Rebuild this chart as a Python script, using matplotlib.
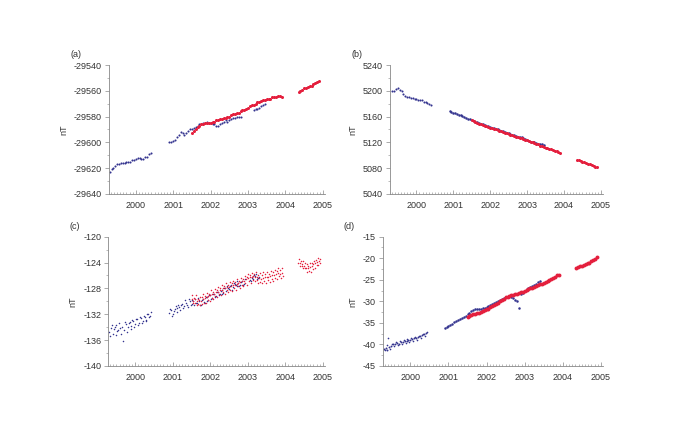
import numpy as np
import matplotlib
matplotlib.use("Agg")
import matplotlib.pyplot as plt
from matplotlib.ticker import MultipleLocator

nan = np.nan

# sampling epochs (decimal year) of the two data segments of each satellite
t_o1 = [1999.30, 1999.35, 1999.40, 1999.45, 1999.50, 1999.55, 1999.60, 1999.65, 1999.70, 1999.75,
        1999.80, 1999.85, 1999.90, 1999.95, 2000.00, 2000.05, 2000.10, 2000.15, 2000.20, 2000.25,
        2000.30, 2000.35, 2000.40]
t_o2 = [2000.90, 2000.95, 2001.00, 2001.05, 2001.10, 2001.15, 2001.20, 2001.25, 2001.30, 2001.35,
        2001.40, 2001.45, 2001.50, 2001.55, 2001.60, 2001.65, 2001.70, 2001.75, 2001.80, 2001.85,
        2001.90, 2001.95, 2002.00, 2002.05, 2002.10, 2002.15, 2002.20, 2002.25, 2002.30, 2002.35,
        2002.40, 2002.45, 2002.50, 2002.55, 2002.60, 2002.65, 2002.70, 2002.75, 2002.80, 2002.85,
        2002.90, 2002.95, 2003.00, 2003.05, 2003.10, 2003.15, 2003.20, 2003.25, 2003.30, 2003.35,
        2003.40, 2003.45]
t_c1 = [2001.50, 2001.55, 2001.60, 2001.65, 2001.70, 2001.75, 2001.80, 2001.85, 2001.90, 2001.95,
        2002.00, 2002.05, 2002.10, 2002.15, 2002.20, 2002.25, 2002.30, 2002.35, 2002.40, 2002.45,
        2002.50, 2002.55, 2002.60, 2002.65, 2002.70, 2002.75, 2002.80, 2002.85, 2002.90, 2002.95,
        2003.00, 2003.05, 2003.10, 2003.15, 2003.20, 2003.25, 2003.30, 2003.35, 2003.40, 2003.45,
        2003.50, 2003.55, 2003.60, 2003.65, 2003.70, 2003.75, 2003.80, 2003.85, 2003.90]
t_c2 = [2004.35, 2004.40, 2004.45, 2004.50, 2004.55, 2004.60, 2004.65, 2004.70, 2004.75, 2004.80,
        2004.85, 2004.90, 2004.95]

# (a)
a_o1 = [-29623, -29621, -29620, -29618, -29617, -29617, -29616, -29616, -29616, -29615,
        -29615, -29615, -29614, -29614, -29613, -29612, -29612, -29613, -29613, -29611,
        -29611, -29609, -29608]
a_o2 = [-29600, -29600, -29599, -29598, -29596, -29594, -29592, -29593, -29594, -29593,
        -29591, -29590, -29590, -29589, -29588, -29587, -29586, -29586, -29585, -29585,
        -29584, -29585, -29585, -29586, -29586, -29587, -29587, -29586, -29585, -29584,
        -29583, -29584, -29583, -29582, -29581, -29581, -29580, -29580, -29580, nan,
        nan, nan, nan, nan, nan, -29575, -29574, -29574, -29573, -29572,
        -29571, -29570]
a_c1 = [-29593, -29591, -29590, -29588, -29587, -29586, -29586, -29585, -29585, -29585,
        -29585, -29584, -29584, -29583, -29583, -29582, -29582, -29581, -29581, -29580,
        -29580, -29579, -29578, -29578, -29577, -29577, -29576, -29575, -29575, -29574,
        -29573, -29572, -29571, -29571, -29570, -29569, -29569, -29568, -29567, -29567,
        -29566, -29566, -29566, -29565, -29565, -29565, -29564, -29564, -29565]
a_c2 = [-29561, -29560, -29559, -29558, -29558, -29557, -29556, -29556, -29555, -29554,
        -29553, -29552, nan]

# (b)
b_o1 = [nan, 5200, 5199, 5203, 5204, 5201, 5199, 5195, 5192, 5191,
        5190, 5189, 5189, 5188, 5187, 5186, 5186, 5185, 5183, 5182,
        5181, 5180, 5178]
b_o2 = [5168, 5167, 5166, 5165, 5164, 5163, 5162, 5161, 5159, 5158,
        5157, 5156, 5155, 5153, 5152, 5151, 5150, 5149, 5148, 5147,
        5146, 5145, 5144, 5143, 5142, 5141, 5140, 5139, 5138, 5137,
        5136, 5135, 5135, 5133, 5132, 5131, 5130, 5129, 5129, 5128,
        5126, 5125, 5123, 5122, 5121, 5120, 5120, 5119, 5118, 5117,
        5117, 5116]
b_c1 = [5154, 5153, 5152, 5150, 5149, 5148, 5147, 5146, 5145, 5144,
        5143, 5142, 5141, 5140, 5139, 5138, 5137, 5136, 5135, 5134,
        5133, 5132, 5131, 5130, 5129, 5128, 5127, 5126, 5125, 5124,
        5123, 5122, 5121, 5120, 5119, 5118, 5117, 5115, 5114, 5113,
        5112, 5111, 5110, 5109, 5108, 5107, 5106, 5105, 5104]
b_c2 = [5093, 5092, 5091, 5090, 5089, 5088, 5087, 5086, 5085, 5084,
        5082, 5081, nan]

# (c)  several samples per epoch, the component is noisy
c_o1 = [-134.8, -134.2, -135.0, -134.0, -133.6, -134.5, -134.2, -133.9, -134.4, -133.5,
        -134.0, -133.2, -133.8, -133.0, -133.5, -132.8, -133.4, -132.6, -133.1, -132.4,
        -132.9, -132.0, -132.3]
c_o1b = [-135.4, -133.6, -134.3, -135.2, -134.6, -133.3, -135.0, -136.1, -133.2, -134.7,
         -133.4, -134.3, -132.9, -134.0, -132.7, -133.6, -132.5, -133.3, -132.2, -133.0,
         -131.9, -132.5, -131.7]
c_o2 = [-131.8, -131.4, -132.0, -131.2, -131.0, -130.6, -131.3, -130.4, -130.8, -130.2,
        -130.9, -129.9, -130.4, -130.0, -129.7, -130.3, -129.9, -130.5, -129.6, -130.2,
        -129.3, -129.8, -129.1, -129.5, -128.8, -129.2, -128.6, -128.9, -128.3, -128.7,
        -128.0, -127.6, -128.1, -127.4, -127.8, -127.3, -127.6, -127.2, -127.5, -126.8,
        -127.3, nan, nan, -126.7, -126.3, -126.5, -126.1, -126.6, -126.3, nan,
        nan, nan]
c_o2b = [-131.2, -132.3, -131.5, -130.8, -131.6, -130.9, -130.5, -131.1, -129.8, -130.6,
         -129.6, -130.5, -129.8, -130.6, -130.3, -129.5, -130.6, -129.8, -130.1, -129.4,
         -130.0, -129.1, -129.6, -128.9, -129.4, -128.5, -129.0, -128.4, -128.8, -127.9,
         -128.4, -128.0, -127.6, -128.2, -127.1, -127.5, -126.9, -127.7, -127.0, -127.4,
         -126.6, nan, nan, -126.9, -126.4, -126.0, -125.8, -126.4, nan, nan,
         nan, nan]
c_c1 = [-129.6, -129.9, -129.7, -130.0, -129.8, -130.0, -129.7, -129.5, -129.4, -129.2,
        -129.0, -128.9, -128.8, -128.6, -128.5, -128.3, -128.2, -128.0, -127.9, -127.8,
        -127.8, -127.6, -127.5, -127.5, -127.3, -127.2, -127.0, -126.9, -126.8, -126.6,
        -126.4, -126.3, -126.2, -126.1, -126.2, -126.3, -126.4, -126.5, -126.4, -126.3,
        -126.2, -126.3, -126.1, -126.0, -125.9, -125.8, -125.6, -125.7, -125.6]
c_c1_hi = [-129.0, -129.5, -129.1, -129.7, -129.3, -129.4, -128.9, -129.2, -128.7, -128.9,
           -128.3, -128.6, -128.1, -128.3, -127.8, -128.0, -127.5, -127.7, -127.2, -127.5,
           -127.0, -127.2, -126.9, -127.0, -126.6, -126.8, -126.4, -126.5, -126.1, -126.3,
           -125.8, -126.0, -125.6, -125.8, -125.5, -125.9, -125.6, -126.0, -125.5, -125.8,
           -125.4, -125.8, -125.3, -125.5, -125.1, -125.3, -124.8, -125.2, -124.9]
c_c1_lo = [-130.2, -130.3, -130.5, -130.4, -130.6, -130.4, -130.2, -130.3, -129.8, -130.0,
           -129.5, -129.6, -129.2, -129.4, -128.9, -129.1, -128.6, -128.8, -128.3, -128.5,
           -128.2, -128.4, -127.9, -128.2, -127.7, -128.0, -127.4, -127.7, -127.2, -127.4,
           -126.9, -127.1, -126.7, -126.9, -126.7, -127.1, -127.0, -127.2, -126.9, -127.1,
           -126.7, -127.0, -126.6, -126.8, -126.4, -126.6, -126.1, -126.4, -126.1]
c_c2 = [-124.0, -124.1, -124.3, -124.5, -124.8, -124.9, -124.7, -124.5, -124.3, -124.0,
        -123.9, -123.7, nan]
c_c2_hi = [-123.5, -123.8, -123.8, -124.1, -124.2, -124.5, -124.1, -124.1, -123.7, -123.6,
           -123.3, -123.4, nan]
c_c2_lo = [-124.5, -124.5, -124.9, -124.9, -125.4, -125.3, -125.4, -125.0, -124.9, -124.4,
           -124.4, -124.0, nan]

# (d)
d_o1 = [-41.0, -40.8, -41.2, -40.5, -40.3, -40.0, -39.9, -39.7, -39.8, -39.5,
        -39.4, -39.3, -39.2, -39.0, -39.0, -38.8, -38.6, -38.5, -38.3, -38.0,
        -37.9, -37.6, -37.4]
d_o1b = [-41.4, -40.2, -38.4, -41.0, -39.8, -40.4, -39.5, -40.1, -39.3, -39.9,
         -39.0, -39.7, -38.8, -39.4, -38.6, -39.1, -38.3, -38.9, -38.0, -38.4,
         -37.7, -38.0, -37.2]
d_o2 = [-36.1, -36.0, -35.7, -35.5, -35.2, -34.9, -34.6, -34.3, -34.1, -33.9,
        -33.6, -33.3, -33.0, -32.7, -32.3, -32.0, -31.9, -31.8, -31.7, -31.7,
        -31.6, -31.5, -31.3, -31.1, -30.9, -30.7, -30.5, -30.2, -30.0, -29.8,
        -29.5, -29.3, -29.1, -28.9, -28.8, -28.9, -29.3, -29.8, -30.0, -31.6,
        -28.3, -28.0, -27.6, -27.2, -26.8, -26.6, -26.4, -26.2, -25.9, -25.5,
        -25.2, nan]
d_c1 = [-33.6, -33.4, -33.2, -33.0, -32.9, -32.7, -32.6, -32.5, -32.3, -32.1,
        -31.9, -31.7, -31.4, -31.2, -30.9, -30.6, -30.3, -30.0, -29.7, -29.4,
        -29.1, -28.9, -28.7, -28.6, -28.5, -28.4, -28.2, -28.1, -27.9, -27.8,
        -27.6, -27.4, -27.2, -27.0, -26.8, -26.6, -26.4, -26.2, -26.0, -25.9,
        -25.7, -25.5, -25.3, -25.1, -24.9, -24.6, -24.3, -24.0, -23.8]
d_c2 = [-22.2, -22.0, -21.9, -21.7, -21.5, -21.3, -21.2, -21.0, -20.7, -20.4,
        -20.1, -19.8, nan]

years = [2000, 2001, 2002, 2003, 2004, 2005]

blue = '#34348f'
red = '#e41f3d'

plt.rcParams['font.family'] = ['Liberation Sans', 'DejaVu Sans']
plt.rcParams['axes.unicode_minus'] = False
fig = plt.figure(figsize=(6.85, 4.28), dpi=100)


def setup(ax, label, ylim, ymaj, ymin):
    ax.set_xlim(1999.28, 2005.05)
    ax.set_ylim(*ylim)
    ax.set_xticks(years)
    ax.set_xticklabels([str(y) for y in years])
    ax.xaxis.set_minor_locator(MultipleLocator(1 / 12))
    ax.yaxis.set_major_locator(MultipleLocator(ymaj))
    ax.yaxis.set_minor_locator(MultipleLocator(ymin))
    for s in ['top', 'right']:
        ax.spines[s].set_visible(False)
    for s in ['left', 'bottom']:
        ax.spines[s].set_color('#888888')
        ax.spines[s].set_linewidth(0.6)
    ax.tick_params(axis='x', which='major', direction='in', length=3, width=0.5,
                   color='#888888', labelsize=6.5, labelcolor='#333333', pad=5)
    ax.tick_params(axis='x', which='minor', direction='in', length=1.5, width=0.4, color='#888888')
    ax.tick_params(axis='y', which='major', direction='out', length=3, width=0.5,
                   color='#888888', labelsize=6.5, labelcolor='#333333', pad=2)
    ax.tick_params(axis='y', which='minor', direction='out', length=1.5, width=0.4, color='#888888')
    ax.set_ylabel('nT', fontsize=6.5, color='#333333', labelpad=4)
    ax.text(-0.18, 1.045, label, transform=ax.transAxes, fontsize=6.5, color='#333333',
            ha='left', va='bottom')


def dots(ax, t, v, c, ms):
    ax.plot(t, v, linestyle='none', marker='o', ms=ms, mew=0, color=c)


# (a)
ax = fig.add_axes([0.159, 0.547, 0.315, 0.301])
dots(ax, t_o1, a_o1, blue, 1.5)
dots(ax, t_o2, a_o2, blue, 1.5)
dots(ax, t_c1, a_c1, red, 2.2)
dots(ax, t_c2, a_c2, red, 2.2)
setup(ax, '(a)', (-29640, -29540), 20, 10)

# (b)
ax = fig.add_axes([0.569, 0.547, 0.311, 0.301])
dots(ax, t_o1, b_o1, blue, 1.5)
dots(ax, t_o2, b_o2, blue, 1.8)
dots(ax, t_c1, b_c1, red, 2.2)
dots(ax, t_c2, b_c2, red, 2.2)
setup(ax, '(b)', (5040, 5240), 40, 20)

# (c)  second/third samples were taken between the main epochs
ax = fig.add_axes([0.158, 0.145, 0.316, 0.302])
dots(ax, t_o1, c_o1, blue, 1.1)
dots(ax, np.add(t_o1, 0.025), c_o1b, blue, 1.1)
dots(ax, t_o2, c_o2, blue, 1.1)
dots(ax, np.add(t_o2, 0.025), c_o2b, blue, 1.1)
dots(ax, t_c1, c_c1, red, 1.1)
dots(ax, np.add(t_c1, 0.017), c_c1_hi, red, 1.1)
dots(ax, np.add(t_c1, 0.033), c_c1_lo, red, 1.1)
dots(ax, t_c2, c_c2, red, 1.1)
dots(ax, np.add(t_c2, 0.017), c_c2_hi, red, 1.1)
dots(ax, np.add(t_c2, 0.033), c_c2_lo, red, 1.1)
setup(ax, '(c)', (-140, -120), 4, 2)

# (d)
ax = fig.add_axes([0.559, 0.145, 0.321, 0.302])
dots(ax, t_o1, d_o1, blue, 1.4)
dots(ax, np.add(t_o1, 0.025), d_o1b, blue, 1.2)
dots(ax, t_o2, d_o2, blue, 1.8)
dots(ax, t_c1, d_c1, red, 2.8)
dots(ax, t_c2, d_c2, red, 2.8)
setup(ax, '(d)', (-45, -15), 5, 2.5)

fig.savefig('out.png', dpi=100)
